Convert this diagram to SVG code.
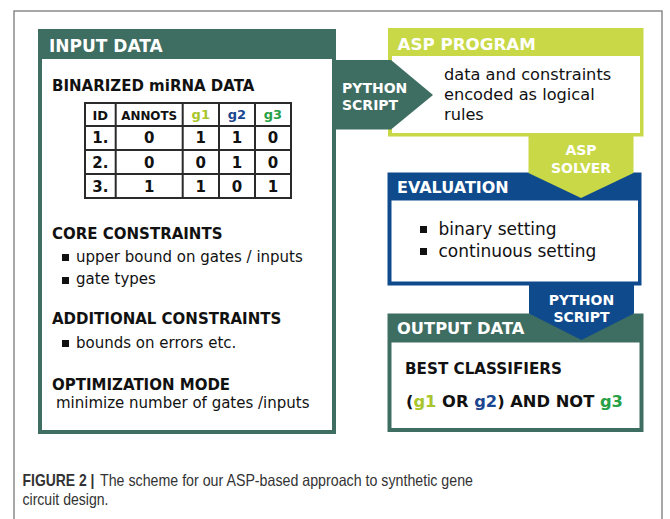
<svg xmlns="http://www.w3.org/2000/svg" width="670" height="519" viewBox="0 0 670 519">
  <style>
    .hdr { font-family: "DejaVu Sans", Verdana, sans-serif; font-weight: bold; fill: #ffffff; }
    .bold { font-family: "DejaVu Sans", Verdana, sans-serif; font-weight: bold; fill: #111111; }
    .reg { font-family: "DejaVu Sans", Verdana, sans-serif; fill: #111111; }
    .cell { font-family: "DejaVu Sans", Verdana, sans-serif; font-weight: bold; fill: #111111; font-size: 15px; text-anchor: middle; }
    .th { font-family: "DejaVu Sans", Verdana, sans-serif; font-weight: bold; font-size: 13px; text-anchor: middle; }
    .teal { fill: #3e6d62; }
    .lime { fill: #c8d846; }
    .blue { fill: #0f4a8d; }
    .grid { stroke: #2a2a2a; stroke-width: 2; fill: none; }
    .cap { font-family: "Liberation Sans", Arial, sans-serif; font-size: 16.5px; fill: #333333; }
  </style>

  <!-- page frame -->
  <path d="M14,519 V11 H662 V519" fill="none" stroke="#8a8a8a" stroke-width="1.5"/>

  <!-- INPUT DATA panel -->
  <g id="input-data">
    <rect x="38" y="29" width="298" height="405" class="teal"/>
    <rect x="42" y="59" width="290" height="371" fill="#ffffff"/>
    <text x="49" y="52" class="hdr" font-size="17">INPUT DATA</text>
    <text x="52" y="91" class="bold" font-size="15">BINARIZED miRNA DATA</text>

    <!-- data table -->
    <g id="table">
      <rect x="85" y="103" width="206" height="95" class="grid"/>
      <path class="grid" d="M85,126 H291 M85,150 H291 M85,174 H291 M115.7,103 V198 M182.7,103 V198 M219,103 V198 M255,103 V198"/>
      <text x="100.3" y="120" class="th" fill="#111111">ID</text>
      <text x="149.2" y="120" class="th" fill="#111111" textLength="56" lengthAdjust="spacingAndGlyphs">ANNOTS</text>
      <text x="200.8" y="119" class="th" fill="#a9c52c">g1</text>
      <text x="237" y="119" class="th" fill="#1b4690">g2</text>
      <text x="273" y="119" class="th" fill="#27a046">g3</text>

      <text x="100.3" y="143" class="cell">1.</text>
      <text x="149.2" y="143" class="cell">0</text>
      <text x="200.8" y="143" class="cell">1</text>
      <text x="237" y="143" class="cell">1</text>
      <text x="273" y="143" class="cell">0</text>

      <text x="100.3" y="167.5" class="cell">2.</text>
      <text x="149.2" y="167.5" class="cell">0</text>
      <text x="200.8" y="167.5" class="cell">0</text>
      <text x="237" y="167.5" class="cell">1</text>
      <text x="273" y="167.5" class="cell">0</text>

      <text x="100.3" y="192" class="cell">3.</text>
      <text x="149.2" y="192" class="cell">1</text>
      <text x="200.8" y="192" class="cell">1</text>
      <text x="237" y="192" class="cell">0</text>
      <text x="273" y="192" class="cell">1</text>
    </g>

    <text x="52" y="239" class="bold" font-size="15">CORE CONSTRAINTS</text>
    <rect x="62" y="254" width="7" height="7" fill="#111111"/>
    <text x="76" y="261.5" class="reg" font-size="15">upper bound on gates / inputs</text>
    <rect x="62" y="277" width="7" height="7" fill="#111111"/>
    <text x="76" y="284" class="reg" font-size="15">gate types</text>

    <text x="52" y="323.5" class="bold" font-size="15">ADDITIONAL CONSTRAINTS</text>
    <rect x="62" y="340" width="7" height="7" fill="#111111"/>
    <text x="76" y="347.5" class="reg" font-size="15">bounds on errors etc.</text>

    <text x="52" y="389.5" class="bold" font-size="15">OPTIMIZATION MODE</text>
    <text x="56" y="407.5" class="reg" font-size="15">minimize number of gates /inputs</text>
  </g>

  <!-- ASP PROGRAM panel -->
  <g id="asp-program">
    <rect x="388" y="28" width="255.5" height="108.5" class="lime"/>
    <rect x="392" y="56" width="248" height="77" fill="#ffffff"/>
    <text x="397.5" y="49.5" class="hdr" font-size="16.7">ASP PROGRAM</text>
    <text x="444" y="79.5" class="reg" font-size="16.2">data and constraints</text>
    <text x="444" y="100" class="reg" font-size="16.2">encoded as logical</text>
    <text x="444" y="119.5" class="reg" font-size="16.2">rules</text>
  </g>

  <!-- EVALUATION panel -->
  <g id="evaluation">
    <rect x="387.5" y="172.5" width="254" height="113" class="blue"/>
    <rect x="391.5" y="200.5" width="246.5" height="81" fill="#ffffff"/>
    <text x="397" y="192.5" class="hdr" font-size="16">EVALUATION</text>
    <rect x="420" y="226" width="7" height="7" fill="#111111"/>
    <text x="438.5" y="235" class="reg" font-size="17">binary setting</text>
    <rect x="420" y="248" width="7" height="7" fill="#111111"/>
    <text x="438.5" y="256.5" class="reg" font-size="17">continuous setting</text>
  </g>

  <!-- OUTPUT DATA panel -->
  <g id="output-data">
    <rect x="387.5" y="313.5" width="256" height="118.5" class="teal"/>
    <rect x="391.5" y="342.5" width="248" height="85.5" fill="#ffffff"/>
    <text x="397" y="334" class="hdr" font-size="16.3">OUTPUT DATA</text>
    <text x="405" y="373.5" class="bold" font-size="15.2">BEST CLASSIFIERS</text>
    <text x="406" y="406.5" class="bold" font-size="16.3">(<tspan fill="#a9c52c">g1</tspan> OR <tspan fill="#1b4690">g2</tspan>) AND NOT <tspan fill="#27a046">g3</tspan></text>
  </g>

  <!-- connectors: arrow-shaped step labels -->
  <g id="connectors">
    <g id="python-script-1">
      <polygon points="334,60 391,60 433,95 391,129.5 334,129.5" class="teal"/>
      <text x="342" y="92.5" class="hdr" font-size="14">PYTHON</text>
      <text x="342" y="110" class="hdr" font-size="14">SCRIPT</text>
    </g>
    <g id="asp-solver">
      <polygon points="528.5,136 633.5,136 633.5,173 581,198 528.5,173" class="lime"/>
      <text x="581" y="155" class="hdr" font-size="14" text-anchor="middle">ASP</text>
      <text x="581" y="172.5" class="hdr" font-size="14" text-anchor="middle">SOLVER</text>
    </g>
    <g id="python-script-2">
      <polygon points="529,285 634,285 634,313.5 581.5,340 529,313.5" class="blue"/>
      <text x="581.5" y="304.5" class="hdr" font-size="14" text-anchor="middle">PYTHON</text>
      <text x="581.5" y="321.5" class="hdr" font-size="14" text-anchor="middle">SCRIPT</text>
    </g>
  </g>

  <!-- caption -->
  <text x="22.5" y="485.5" class="cap" font-weight="bold" fill="#111111" textLength="72" lengthAdjust="spacingAndGlyphs">FIGURE 2 |</text>
  <text x="100" y="485.5" class="cap" textLength="373" lengthAdjust="spacingAndGlyphs">The scheme for our ASP-based approach to synthetic gene</text>
  <text x="22.5" y="504.5" class="cap" textLength="86" lengthAdjust="spacingAndGlyphs">circuit design.</text>
</svg>
